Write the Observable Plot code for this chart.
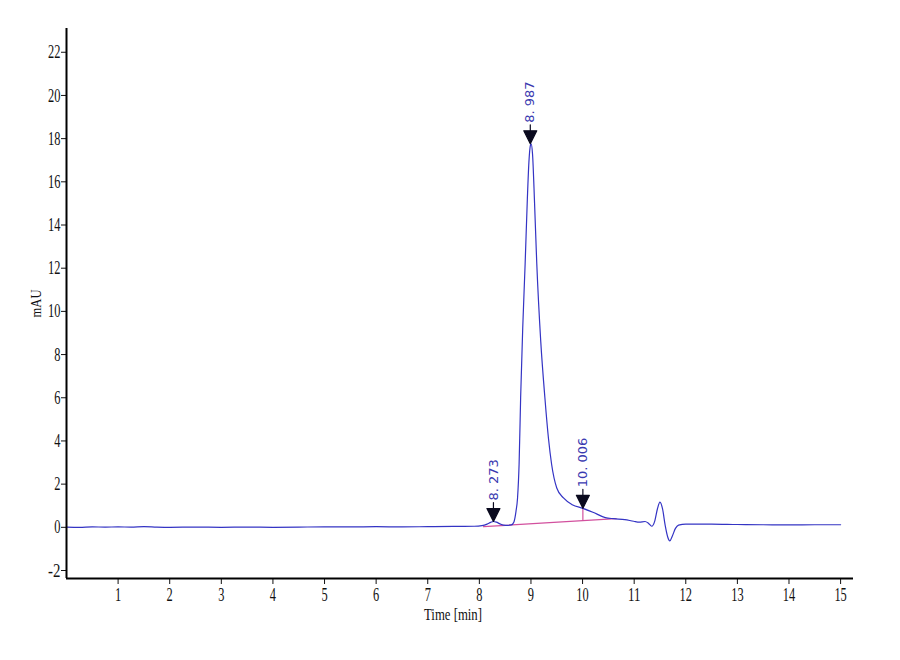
<!DOCTYPE html>
<html>
<head>
<meta charset="utf-8">
<script src="https://cdn.jsdelivr.net/npm/d3@7"></script>
<script src="https://cdn.jsdelivr.net/npm/@observablehq/plot@0.6"></script>
<style>
  html, body { margin: 0; padding: 0; background: #ffffff; }
  #chart { width: 900px; height: 660px; }
</style>
</head>
<body>
<div id="chart"></div>
<script>
// Chromatogram trace: time [min] and absorbance [mAU]
const times = [0, 0.25, 0.5, 0.75, 1.0, 1.25, 1.5, 1.75, 2.0, 2.5, 3.0, 3.5, 4.0, 4.5, 5.0, 5.5, 6.0, 6.5, 7.0, 7.5, 7.9,
  8.05, 8.15, 8.22, 8.27, 8.33, 8.4, 8.47, 8.55, 8.62, 8.67, 8.71, 8.74, 8.77, 8.80, 8.84, 8.887, 8.93, 8.96, 8.99, 9.003,
  9.03, 9.07, 9.113, 9.19, 9.27, 9.34, 9.40, 9.5, 9.63, 9.8, 10.006, 10.2, 10.44, 10.6, 10.82, 10.99, 11.1, 11.21, 11.28,
  11.34, 11.4, 11.45, 11.50, 11.55, 11.6, 11.65, 11.69, 11.74, 11.8, 11.86, 12.0, 12.5, 13.0, 13.5, 14.0, 14.5, 15.0];
const mAU = [0.01, 0.0, 0.02, 0.01, 0.02, 0.01, 0.03, 0.01, 0.0, 0.01, 0.0, 0.01, 0.0, 0.01, 0.02, 0.02, 0.03, 0.02, 0.03, 0.04, 0.05,
  0.08, 0.15, 0.23, 0.27, 0.24, 0.16, 0.10, 0.09, 0.11, 0.25, 0.74, 1.36, 2.92, 6.0, 9.2, 12.19, 15.2, 16.9, 17.7, 17.76,
  17.3, 15.0, 12.19, 8.6, 6.0, 4.1, 2.92, 1.82, 1.36, 1.05, 0.88, 0.70, 0.45, 0.40, 0.36, 0.28, 0.24, 0.27, 0.18,
  0.05, 0.30, 0.85, 1.17, 0.85, 0.10, -0.45, -0.63, -0.40, -0.05, 0.10, 0.15, 0.15, 0.13, 0.12, 0.11, 0.12, 0.12];

// Peak annotations
const peakTimes = [8.273, 8.987, 10.006];
const peakValues = [0.27, 17.76, 0.88];
const peakLabels = ["8. 273", "8. 987", "10. 006"];

// Integration baseline and drop line
const baseTimes = [8.08, 10.65];
const baseValues = [0.03, 0.40];
const dropTime = [10.006];
const dropFrom = [0.31];
const dropTo = [0.88];

// Axis ticks
const xTicks = [1, 2, 3, 4, 5, 6, 7, 8, 9, 10, 11, 12, 13, 14, 15];
const yTicks = [-2, 0, 2, 4, 6, 8, 10, 12, 14, 16, 18, 20, 22];

const trace = times.map((t, i) => ({t, v: mAU[i]}));
const peaks = peakTimes.map((t, i) => ({t, v: peakValues[i], label: peakLabels[i]}));
const baseline = baseTimes.map((t, i) => ({t, v: baseValues[i]}));
const drops = dropTime.map((t, i) => ({t, y1: dropFrom[i], y2: dropTo[i]}));

const yMin = -2.37, yMax = 23.1;
const xMin = 0, xMax = 15.25;

const marker = {
  draw(ctx, l, r) {
    ctx.moveTo(0, 0);
    ctx.lineTo(-6.5, -13);
    ctx.lineTo(6.5, -13);
    ctx.closePath();
    ctx.moveTo(0, -13);
    ctx.lineTo(0, -19);
  }
};

const serif = "Liberation Serif, Times New Roman, serif";

const chart = Plot.plot({
  width: 900,
  height: 625,
  marginLeft: 66,
  marginTop: 28,
  marginRight: 47,
  marginBottom: 47,
  style: {background: "transparent", color: "#111", fontFamily: serif, fontSize: "19px"},
  x: {domain: [xMin, xMax]},
  y: {domain: [yMin, yMax]},
  marks: [
    Plot.line(baseline, {x: "t", y: "v", stroke: "#d2509e", strokeWidth: 1.2}),
    Plot.ruleX(drops, {x: "t", y1: "y1", y2: "y2", stroke: "#d2509e", strokeWidth: 1.2}),
    Plot.line(trace, {x: "t", y: "v", stroke: "#3434c4", strokeWidth: 1.2, curve: "monotone-x"}),
    Plot.vector(peaks, {x: "t", y: "v", length: 19, anchor: "start", shape: marker, fill: "#0a0a1e", stroke: "#0a0a1e", strokeWidth: 1.2}),
    Plot.text(peaks, {x: "t", y: "v", text: "label", rotate: -90, textAnchor: "start", dy: -21, fill: "#3a3ab0",
      fontSize: 13, fontFamily: "DejaVu Sans, sans-serif"}),
    Plot.axisX({ticks: xTicks, tickSize: 6, tickPadding: 3, tickFormat: d => String(d),
      label: "Time [min]", labelAnchor: "center", labelArrow: false, labelOffset: 41}),
    Plot.axisY({ticks: yTicks, tickSize: 5, tickPadding: 1, tickFormat: d => String(d),
      label: "mAU", labelAnchor: "center", labelArrow: false, labelOffset: 36}),
    Plot.ruleX([xMin], {stroke: "#000", strokeWidth: 2}),
    Plot.ruleY([yMin], {stroke: "#000", strokeWidth: 2})
  ]
});
document.getElementById("chart").appendChild(chart);

// Condense the serif axis texts to match the narrow typeface of the original
chart.querySelectorAll("text").forEach(t => {
  const g = t.closest("g[aria-label]");
  const role = g ? g.getAttribute("aria-label") : "";
  if (role.endsWith("tick label")) {
    t.setAttribute("textLength", t.textContent.length * 6.2);
    t.setAttribute("lengthAdjust", "spacingAndGlyphs");
  } else if (role === "x-axis label") {
    t.setAttribute("font-size", "17");
    t.setAttribute("dx", "-7");
    t.setAttribute("textLength", "58");
    t.setAttribute("lengthAdjust", "spacingAndGlyphs");
  } else if (role === "y-axis label") {
    t.setAttribute("font-size", "15");
    t.setAttribute("textLength", "28");
    t.setAttribute("lengthAdjust", "spacingAndGlyphs");
  }
});
</script>
</body>
</html>
